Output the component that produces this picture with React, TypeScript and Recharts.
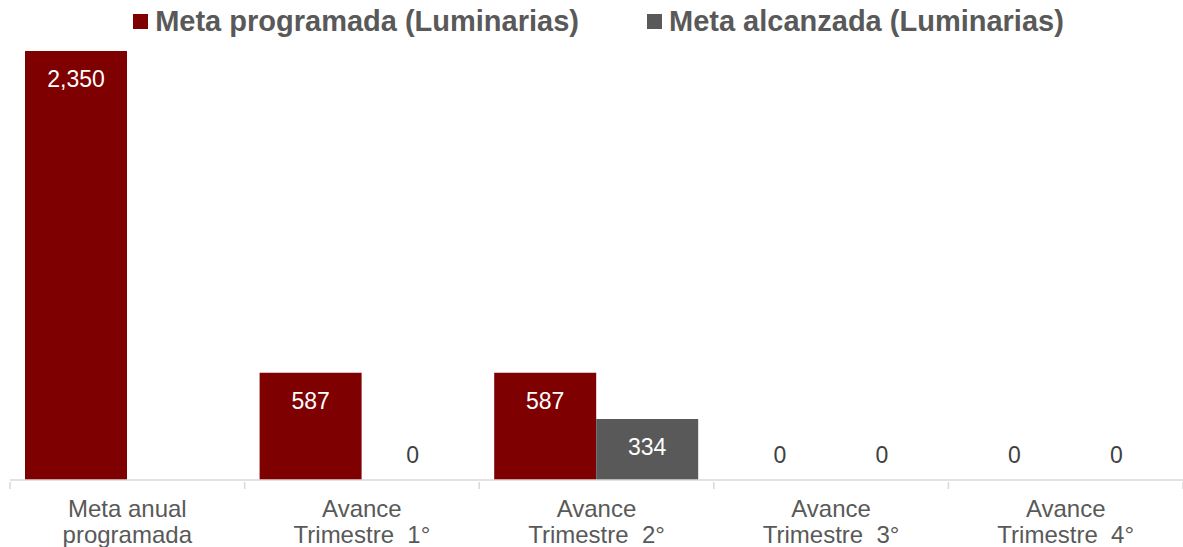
import React from "react";
import { BarChart, Bar, XAxis, YAxis, Legend, LabelList } from "recharts";

const categories = [
  "Meta anual\nprogramada",
  "Avance\nTrimestre  1°",
  "Avance\nTrimestre  2°",
  "Avance\nTrimestre  3°",
  "Avance\nTrimestre  4°",
];
const metaProgramada = [2350, 587, 587, 0, 0];
const metaAlcanzada: (number | null)[] = [null, 0, 334, 0, 0];
const seriesNames = ["Meta programada (Luminarias)", "Meta alcanzada (Luminarias)"];

const RED = "#7f0000";
const GRAY = "#595959";
const TEXT = "#595959";
const FONT = "'Liberation Sans', Arial, sans-serif";

const data = categories.map((c, i) => ({
  name: c,
  programada: metaProgramada[i],
  alcanzada: metaAlcanzada[i],
}));

const fmt = (v: number) => v.toLocaleString("en-US");

const toNum = (v: any) => (Array.isArray(v) ? v[1] : v);

const BarLabel = (props: any) => {
  const { x, y, width } = props;
  const value = toNum(props.value);
  if (value === null || value === undefined || value === "") return null;
  const n = Number(value);
  const cx = Number(x) + Number(width) / 2;
  if (n === 0) {
    return (
      <text x={cx} y={Number(y) - 17} textAnchor="middle" fill="#404040" fontSize={23} fontFamily={FONT}>
        {fmt(n)}
      </text>
    );
  }
  return (
    <text x={cx} y={Number(y) + 36} textAnchor="middle" fill="#ffffff" fontSize={23} fontFamily={FONT}>
      {fmt(n)}
    </text>
  );
};

const CategoryTick = (props: any) => {
  const { x, y, payload, width, visibleTicksCount, index } = props;
  const band = width / visibleTicksCount;
  const lines = String(payload.value).split("\n");
  return (
    <g>
      <line x1={x - band / 2} x2={x - band / 2} y1={y} y2={y + 7} stroke="#d9d9d9" strokeWidth={1.5} />
      {index === visibleTicksCount - 1 && (
        <line x1={x + band / 2} x2={x + band / 2} y1={y} y2={y + 7} stroke="#d9d9d9" strokeWidth={1.5} />
      )}
      <text x={x} y={y} textAnchor="middle" fill={TEXT} fontSize={24} fontFamily={FONT} style={{ whiteSpace: "pre" }}>
        {lines.map((l, i) => (
          <tspan key={i} x={x} dy={i === 0 ? 35 : 26}>
            {l}
          </tspan>
        ))}
      </text>
    </g>
  );
};

const LegendContent = () => {
  const colors = [RED, GRAY];
  return (
    <div
      style={{
        height: 51,
        display: "flex",
        justifyContent: "center",
        alignItems: "flex-start",
        gap: 68,
        fontFamily: FONT,
        fontWeight: "bold",
        fontSize: 29,
        color: TEXT,
        lineHeight: "42px",
        paddingLeft: 4,
        whiteSpace: "nowrap",
      }}
    >
      {seriesNames.map((n, i) => (
        <div key={n} style={{ display: "flex", alignItems: "center", height: 42 }}>
          <span style={{ width: 15, height: 15, background: colors[i], marginRight: 7, display: "inline-block" }} />
          <span>{n}</span>
        </div>
      ))}
    </div>
  );
};

const minSize = (value: any) => (value === 0 ? 0.01 : 0);

export default function App() {
  return (
    <div
      style={{
        position: "absolute",
        left: 0,
        top: 0,
        width: 1183,
        height: 547,
        background: "#ffffff",
        fontFamily: FONT,
      }}
    >
      <BarChart
        width={1183}
        height={547}
        data={data}
        margin={{ top: 0, right: 0, left: 10, bottom: 0 }}
        barCategoryGap={15}
        barGap={0}
      >
        <Legend verticalAlign="top" content={<LegendContent />} />
        <XAxis
          dataKey="name"
          interval={0}
          height={67}
          tickLine={false}
          tickSize={0}
          axisLine={{ stroke: "#d9d9d9", strokeWidth: 1.5 }}
          tick={<CategoryTick />}
        />
        <YAxis hide domain={[0, 2350]} />
        <Bar dataKey="programada" fill={RED} isAnimationActive={false} minPointSize={minSize}>
          <LabelList dataKey="programada" content={<BarLabel />} />
        </Bar>
        <Bar dataKey="alcanzada" fill={GRAY} isAnimationActive={false} minPointSize={minSize}>
          <LabelList dataKey="alcanzada" content={<BarLabel />} />
        </Bar>
      </BarChart>
    </div>
  );
}
